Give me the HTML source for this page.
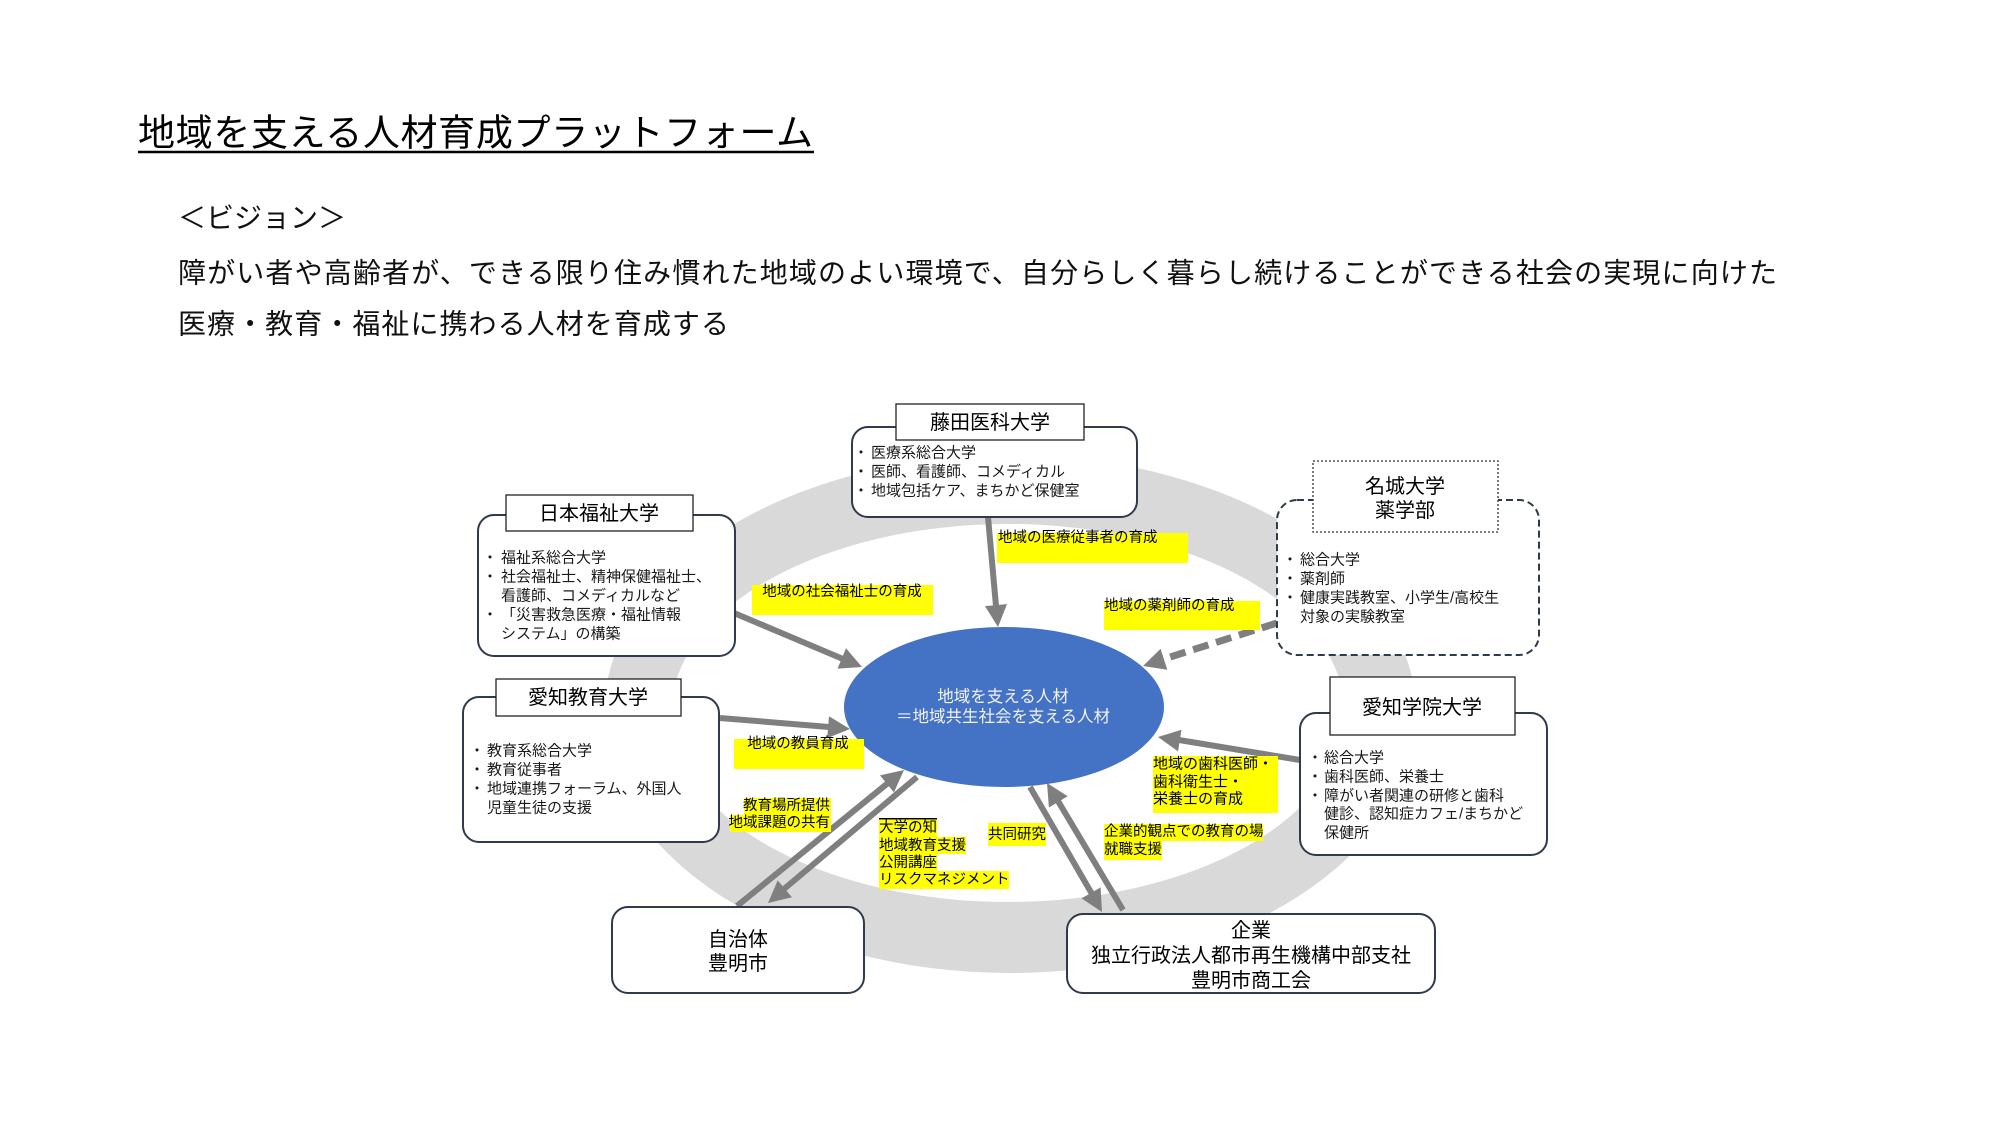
<!DOCTYPE html>
<html lang="ja">
<head>
<meta charset="utf-8">
<style>
  html, body { margin:0; padding:0; background:#ffffff; }
  body { width:2000px; height:1125px; overflow:hidden; position:relative; }
  svg { position:absolute; left:0; top:0; }
  text { font-family: "Liberation Sans", "Noto Sans CJK JP", sans-serif; }
</style>
</head>
<body>
<svg width="2000" height="1125" viewBox="0 0 2000 1125" xmlns="http://www.w3.org/2000/svg">
  <!-- Title -->
  <text x="138" y="133" font-size="37" dominant-baseline="central" textLength="675" lengthAdjust="spacing" fill="#000">地域を支える人材育成プラットフォーム</text>
  <line x1="138" y1="152" x2="814" y2="152" stroke="#000" stroke-width="2.5"/>

  <!-- Vision -->
  <text x="178" y="218" font-size="28" dominant-baseline="central" textLength="168" lengthAdjust="spacing" fill="#111">＜ビジョン＞</text>
  <text x="178" y="273" font-size="28" dominant-baseline="central" textLength="1599" lengthAdjust="spacing" fill="#111">障がい者や高齢者が、できる限り住み慣れた地域のよい環境で、自分らしく暮らし続けることができる社会の実現に向けた</text>
  <text x="178" y="324" font-size="28" dominant-baseline="central" textLength="551" lengthAdjust="spacing" fill="#111">医療・教育・福祉に携わる人材を育成する</text>

  <!-- Ring -->
  <path fill="#D9D9D9" fill-rule="evenodd"
    d="M 604 714 a 406 259 0 1 0 812 0 a 406 259 0 1 0 -812 0 Z
       M 671 713 a 337 189 0 1 0 674 0 a 337 189 0 1 0 -674 0 Z"/>

  <!-- Arrows -->
  <g stroke="#7F7F7F" stroke-width="6" fill="none" stroke-linecap="butt">
    <line x1="734" y1="613" x2="843" y2="659"/>
    <line x1="988" y1="517" x2="996" y2="606"/>
    <line x1="720" y1="718" x2="829" y2="727"/>
    <line x1="1300" y1="760" x2="1179" y2="740"/>
    <line x1="737" y1="906" x2="888" y2="783"/>
    <line x1="917" y1="777" x2="784" y2="889"/>
    <line x1="1030" y1="787" x2="1092" y2="894"/>
    <line x1="1123" y1="910" x2="1058" y2="801"/>
  </g>
  <line x1="1277" y1="623" x2="1164" y2="659" stroke="#7F7F7F" stroke-width="7" stroke-dasharray="16 8"/>
  <g fill="#7F7F7F">
    <polygon points="862,667 837.5,668.6 846,648.3"/>
    <polygon points="998,627 985,606.1 1007,604.1"/>
    <polygon points="1143,666 1160.6,648.8 1167.3,669.8"/>
    <polygon points="850,729 827.2,738.1 829,716.2"/>
    <polygon points="1158,737 1181.5,729.7 1178,751.4"/>
    <polygon points="904,770 893.9,792.4 880,775.4"/>
    <polygon points="768,903 777.7,880.4 791.9,897.2"/>
    <polygon points="1102,912 1081.5,898.4 1100.6,887.4"/>
    <polygon points="1047,783 1067.7,796.2 1048.9,807.5"/>
  </g>

  <!-- Center ellipse -->
  <ellipse cx="1004" cy="707" rx="160" ry="80" fill="#4472C4"/>
  <text x="1003" y="697" font-size="16.5" text-anchor="middle" dominant-baseline="central" fill="#F2F2F2">地域を支える人材</text>
  <text x="1003" y="717" font-size="16.5" text-anchor="middle" dominant-baseline="central" fill="#F2F2F2">＝地域共生社会を支える人材</text>

  <!-- 藤田医科大学 -->
  <rect x="852" y="427" width="285" height="90" rx="16" ry="16" fill="#fff" stroke="#2F3A4C" stroke-width="2"/>
  <rect x="896" y="404" width="188" height="36" fill="#fff" stroke="#222" stroke-width="1.3"/>
  <text x="990" y="423" font-size="20" text-anchor="middle" dominant-baseline="central" fill="#000">藤田医科大学</text>
  <g font-size="15" dominant-baseline="central" fill="#1a1a1a">
    <text x="861" y="453" text-anchor="middle">・</text><text x="871" y="453">医療系総合大学</text>
    <text x="861" y="472" text-anchor="middle">・</text><text x="871" y="472">医師、看護師、コメディカル</text>
    <text x="861" y="491" text-anchor="middle">・</text><text x="871" y="491">地域包括ケア、まちかど保健室</text>
  </g>

  <!-- 日本福祉大学 -->
  <rect x="478" y="515" width="257" height="141" rx="16" ry="16" fill="#fff" stroke="#2F3A4C" stroke-width="2"/>
  <rect x="506" y="495" width="187" height="36" fill="#fff" stroke="#222" stroke-width="1.3"/>
  <text x="599" y="514" font-size="20" text-anchor="middle" dominant-baseline="central" fill="#000">日本福祉大学</text>
  <g font-size="15" dominant-baseline="central" fill="#1a1a1a">
    <text x="490" y="558" text-anchor="middle">・</text><text x="501" y="558">福祉系総合大学</text>
    <text x="490" y="577" text-anchor="middle">・</text><text x="501" y="577">社会福祉士、精神保健福祉士、</text>
    <text x="501" y="596">看護師、コメディカルなど</text>
    <text x="490" y="615" text-anchor="middle">・</text><text x="501" y="615">「災害救急医療・福祉情報</text>
    <text x="501" y="634">システム」の構築</text>
  </g>

  <!-- 名城大学 薬学部 -->
  <rect x="1277" y="500" width="262" height="155" rx="20" ry="20" fill="#fff" stroke="#2F3A4C" stroke-width="2" stroke-dasharray="7 4"/>
  <rect x="1313" y="461" width="185" height="71" fill="#fff" stroke="#333" stroke-width="1.3" stroke-dasharray="2 2"/>
  <text x="1405" y="487" font-size="20" text-anchor="middle" dominant-baseline="central" fill="#000">名城大学</text>
  <text x="1405" y="511" font-size="20" text-anchor="middle" dominant-baseline="central" fill="#000">薬学部</text>
  <g font-size="15" dominant-baseline="central" fill="#1a1a1a">
    <text x="1290" y="560" text-anchor="middle">・</text><text x="1300" y="560">総合大学</text>
    <text x="1290" y="579" text-anchor="middle">・</text><text x="1300" y="579">薬剤師</text>
    <text x="1290" y="598" text-anchor="middle">・</text><text x="1300" y="598">健康実践教室、小学生/高校生</text>
    <text x="1300" y="617">対象の実験教室</text>
  </g>

  <!-- 愛知教育大学 -->
  <rect x="463" y="697" width="256" height="145" rx="16" ry="16" fill="#fff" stroke="#2F3A4C" stroke-width="2"/>
  <rect x="496" y="679" width="185" height="37" fill="#fff" stroke="#222" stroke-width="1.3"/>
  <text x="588" y="698" font-size="20" text-anchor="middle" dominant-baseline="central" fill="#000">愛知教育大学</text>
  <g font-size="15" dominant-baseline="central" fill="#1a1a1a">
    <text x="477" y="751" text-anchor="middle">・</text><text x="487" y="751">教育系総合大学</text>
    <text x="477" y="770" text-anchor="middle">・</text><text x="487" y="770">教育従事者</text>
    <text x="477" y="789" text-anchor="middle">・</text><text x="487" y="789">地域連携フォーラム、外国人</text>
    <text x="487" y="808">児童生徒の支援</text>
  </g>

  <!-- 愛知学院大学 -->
  <rect x="1300" y="713" width="247" height="142" rx="16" ry="16" fill="#fff" stroke="#2F3A4C" stroke-width="2"/>
  <rect x="1330" y="677" width="185" height="58" fill="#fff" stroke="#222" stroke-width="1.3"/>
  <text x="1422" y="708" font-size="20" text-anchor="middle" dominant-baseline="central" fill="#000">愛知学院大学</text>
  <g font-size="15" dominant-baseline="central" fill="#1a1a1a">
    <text x="1315" y="758" text-anchor="middle">・</text><text x="1324" y="758">総合大学</text>
    <text x="1315" y="777" text-anchor="middle">・</text><text x="1324" y="777">歯科医師、栄養士</text>
    <text x="1315" y="796" text-anchor="middle">・</text><text x="1324" y="796">障がい者関連の研修と歯科</text>
    <text x="1324" y="814">健診、認知症カフェ/まちかど</text>
    <text x="1324" y="833">保健所</text>
  </g>

  <!-- 自治体 -->
  <rect x="612" y="907" width="252" height="86" rx="16" ry="16" fill="#fff" stroke="#2F3A4C" stroke-width="2"/>
  <text x="738" y="940" font-size="20" text-anchor="middle" dominant-baseline="central" fill="#000">自治体</text>
  <text x="738" y="964" font-size="20" text-anchor="middle" dominant-baseline="central" fill="#000">豊明市</text>

  <!-- 企業 -->
  <rect x="1067" y="914" width="368" height="79" rx="16" ry="16" fill="#fff" stroke="#2F3A4C" stroke-width="2"/>
  <text x="1251" y="931" font-size="20" text-anchor="middle" dominant-baseline="central" fill="#000">企業</text>
  <text x="1251" y="956" font-size="20" text-anchor="middle" dominant-baseline="central" fill="#000">独立行政法人都市再生機構中部支社</text>
  <text x="1251" y="981" font-size="20" text-anchor="middle" dominant-baseline="central" fill="#000">豊明市商工会</text>

  <!-- Yellow labels -->
  <g fill="#FFFF00">
    <rect x="752" y="585" width="181" height="30"/>
    <rect x="997" y="533" width="191" height="30"/>
    <rect x="1104" y="601" width="156" height="29"/>
    <rect x="734" y="739" width="130" height="30"/>
    <rect x="744" y="798" width="87" height="17"/>
    <rect x="730" y="815" width="101" height="17"/>
    <rect x="879" y="819" width="58" height="18"/>
    <rect x="879" y="837" width="87" height="17"/>
    <rect x="879" y="854" width="58" height="17"/>
    <rect x="879" y="871" width="130" height="18"/>
    <rect x="988" y="823" width="58" height="23"/>
    <rect x="1104" y="824" width="159" height="17"/>
    <rect x="1104" y="841" width="58" height="19"/>
    <rect x="1153" y="756" width="125" height="57"/>
  </g>
  <g font-size="14.5" dominant-baseline="central" fill="#000">
    <text x="842" y="592" text-anchor="middle">地域の社会福祉士の育成</text>
    <text x="998" y="538">地域の医療従事者の育成</text>
    <text x="1104" y="606">地域の薬剤師の育成</text>
    <text x="798" y="744" text-anchor="middle">地域の教員育成</text>
    <text x="830" y="806" text-anchor="end">教育場所提供</text>
    <text x="830" y="823" text-anchor="end">地域課題の共有</text>
    <text x="879" y="828" text-decoration="underline">大学の知</text>
    <text x="879" y="846">地域教育支援</text>
    <text x="879" y="863">公開講座</text>
    <text x="879" y="880">リスクマネジメント</text>
    <text x="988" y="835">共同研究</text>
    <text x="1104" y="832">企業的観点での教育の場</text>
    <text x="1104" y="850">就職支援</text>
  </g>
  <g font-size="15" dominant-baseline="central" fill="#000">
    <text x="1153" y="764">地域の歯科医師・</text>
    <text x="1153" y="782">歯科衛生士・</text>
    <text x="1153" y="799">栄養士の育成</text>
  </g>
</svg>
</body>
</html>
